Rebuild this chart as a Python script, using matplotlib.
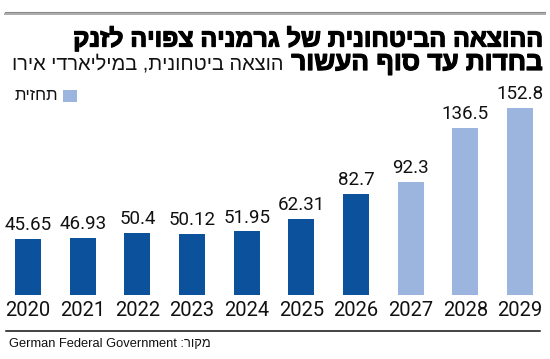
import matplotlib
matplotlib.use('Agg')
import matplotlib.pyplot as plt
import matplotlib.patheffects as pe
from matplotlib.lines import Line2D
from matplotlib.patches import Rectangle

# data
years = ['2020', '2021', '2022', '2023', '2024', '2025', '2026', '2027', '2028', '2029']
values = [45.65, 46.93, 50.4, 50.12, 51.95, 62.31, 82.7, 92.3, 136.5, 152.8]
value_labels = ['45.65', '46.93', '50.4', '50.12', '51.95', '62.31', '82.7', '92.3', '136.5', '152.8']
is_forecast = [False, False, False, False, False, False, False, True, True, True]

title = 'ההוצאה הביטחונית של גרמניה צפויה לזנק'
title2 = 'בחדות עד סוף העשור'
subtitle = 'הוצאה ביטחונית, במיליארדי אירו'
legend_label = 'תחזית'
source_label = 'מקור:'
source = 'German Federal Government'

DARK = '#0b519c'
LIGHT = '#9cb5de'
W, H = 550, 359

COND = ['Liberation Sans Narrow', 'Roboto', 'DejaVu Sans']
HEB = ['Liberation Sans', 'DejaVu Sans']


def rtl(s):
    # matplotlib has no bidi, so put hebrew in visual order
    return s[::-1]


def fx(px):
    return px / W


def fy(py):
    return 1 - py / H


fig = plt.figure(figsize=(W / 100, H / 100), dpi=100)

# plot area: baseline at y=295px
ax = fig.add_axes([0, fy(295), 1, (295 - 80) / H])
colors = [LIGHT if f else DARK for f in is_forecast]
x = list(range(len(years)))
bars = ax.bar(x, values, width=0.475, color=colors)
ax.set_xlim(-0.512, 9.549)
ax.set_ylim(0, 215 / 1.225)
ax.bar_label(bars, labels=value_labels, padding=3.5, fontsize=13.5, family=COND, color='#111111')
ax.set_xticks(x)
ax.set_xticklabels(years, fontsize=14.5, family=COND, color='#111111')
ax.tick_params(axis='x', length=0, pad=4)
ax.set_yticks([])
for s in ax.spines.values():
    s.set_visible(False)
ax.patch.set_alpha(0)

# top double rule
fig.add_artist(Line2D([fx(5), fx(545)], [fy(11.5), fy(11.5)], color='#8a8a8a', lw=0.8))
fig.add_artist(Line2D([fx(5), fx(545)], [fy(14), fy(14)], color='#ababab', lw=1.4))

# titles
fig.canvas.draw()
r = fig.canvas.get_renderer()


def fit(t, width_px):
    bb = t.get_window_extent(r)
    t.set_fontsize(t.get_fontsize() * width_px / bb.width)


heavy = [pe.withStroke(linewidth=0.9, foreground='black')]
t1 = fig.text(fx(543), fy(39), rtl(title), ha='right', va='center',
              fontsize=17, weight='bold', family=HEB, path_effects=heavy)
fit(t1, 543 - 72)
t2 = fig.text(fx(543), fy(63), rtl(title2), ha='right', va='center',
              fontsize=17, weight='bold', family=HEB, path_effects=heavy)
fit(t2, 543 - 291)
t3 = fig.text(fx(283), fy(64), rtl(subtitle), ha='right', va='center',
              fontsize=14, family=HEB, color='#111111')
fit(t3, 283 - 12)

# legend
fig.add_artist(Rectangle((fx(63), fy(102)), 14 / W, 12 / H, transform=fig.transFigure,
                         color=LIGHT, lw=0))
fig.text(fx(58), fy(96), rtl(legend_label), ha='right', va='center',
         fontsize=12, family=HEB, color='#111111')

# bottom rule + source
fig.add_artist(Line2D([fx(6), fx(540)], [fy(331), fy(331)], color='#111111', lw=1.1))
ts = fig.text(fx(9), fy(344), source + ' ' + rtl(source_label), ha='left', va='center',
              fontsize=10, family=HEB, color='#111111')
fit(ts, 212 - 9)

fig.savefig('out.png', dpi=100)
